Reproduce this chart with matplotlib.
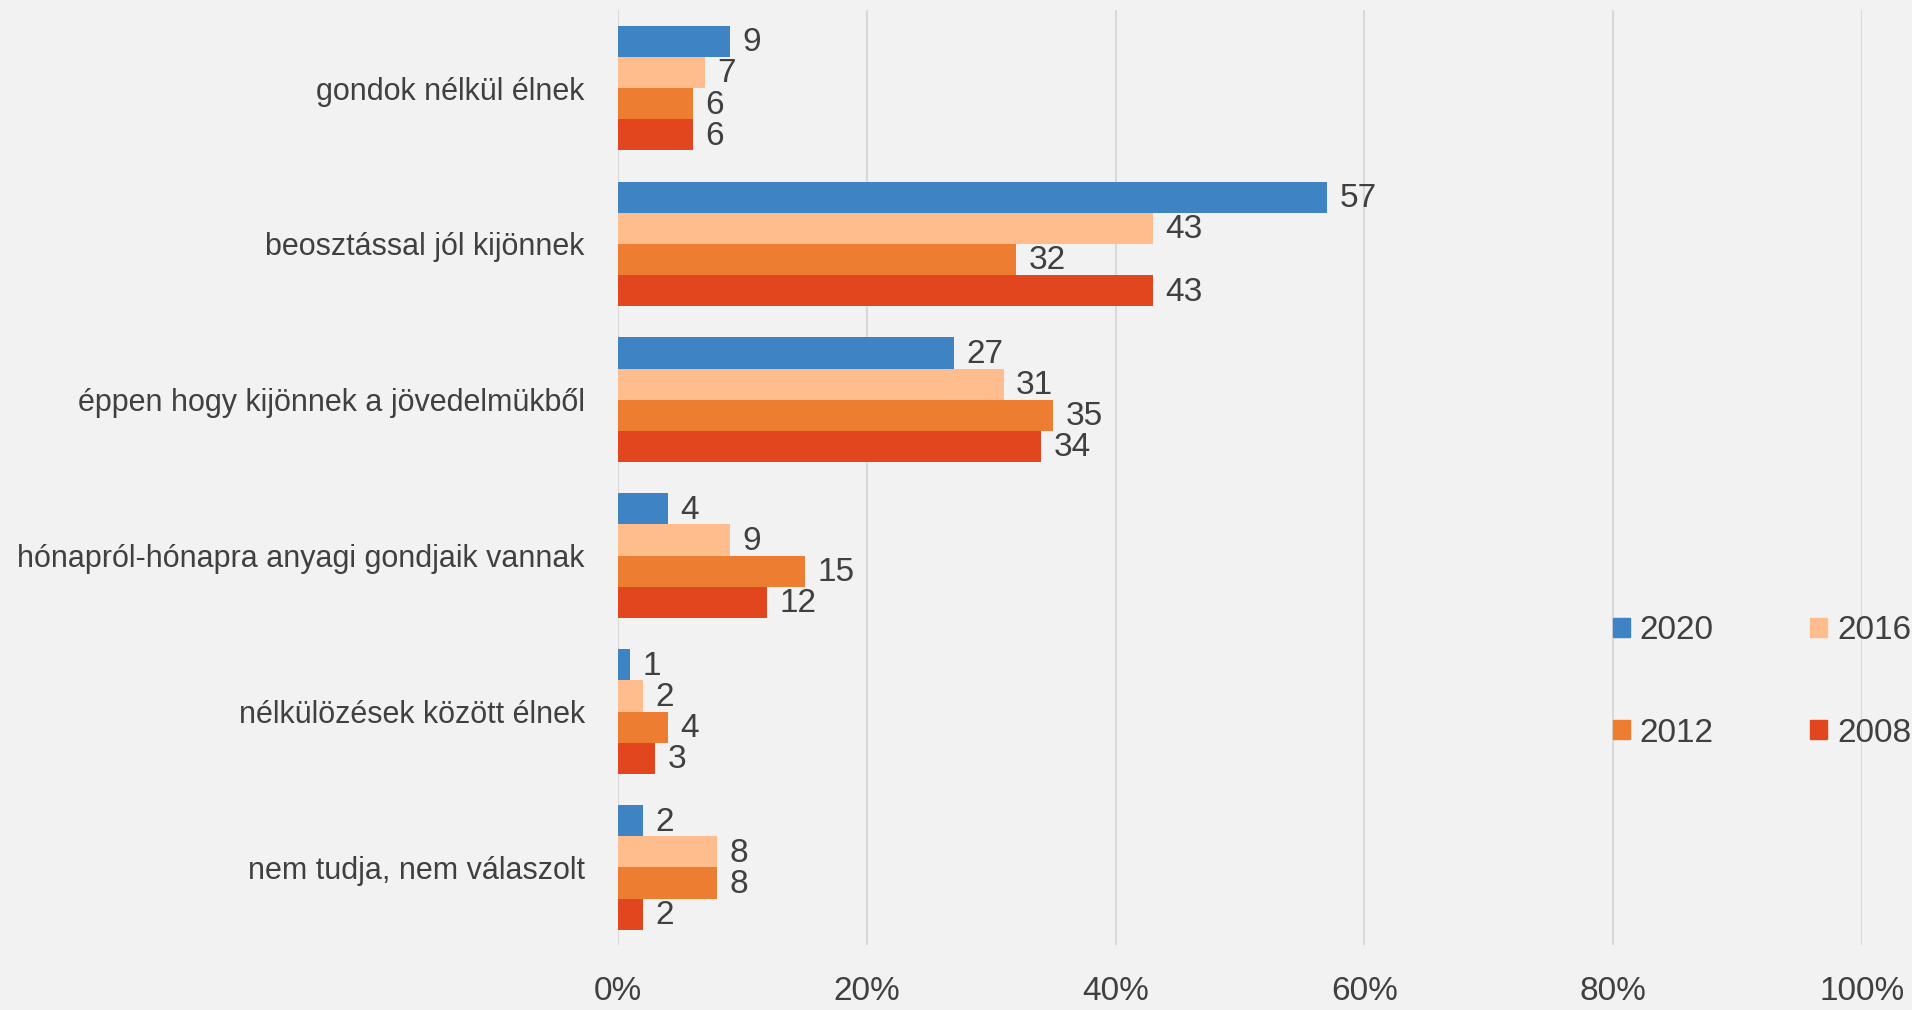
import matplotlib.pyplot as plt
import numpy as np
from matplotlib.patches import Patch

plt.rcParams['font.family'] = ['Liberation Sans', 'DejaVu Sans']

categories = ['gondok nélkül élnek',
              'beosztással jól kijönnek',
              'éppen hogy kijönnek a jövedelmükből',
              'hónapról-hónapra anyagi gondjaik vannak',
              'nélkülözések között élnek',
              'nem tudja, nem válaszolt']
years = ['2020', '2016', '2012', '2008']
v2020 = [9, 57, 27, 4, 1, 2]
v2016 = [7, 43, 31, 9, 2, 8]
v2012 = [6, 32, 35, 15, 4, 8]
v2008 = [6, 43, 34, 12, 3, 2]
series = [v2020, v2016, v2012, v2008]
colors = ['#3E84C4', '#FFBC8C', '#ED7D31', '#E2461E']

bg = '#F2F2F2'
txt = '#404040'

fig = plt.figure(figsize=(19.12, 10.1), dpi=100, facecolor=bg)
ax = fig.add_axes([0.3232, 0.064, 0.6506, 0.926])
ax.set_facecolor(bg)

y = np.arange(len(categories))
h = 0.2
for i, (vals, c) in enumerate(zip(series, colors)):
    pos = y - 1.5 * h + i * h
    ax.barh(pos, vals, height=h, color=c, zorder=3)
    for p, v in zip(pos, vals):
        ax.annotate(str(v), (v, p), xytext=(9, -1), textcoords='offset points',
                    va='center', ha='left', fontsize=24, color=txt)

ax.set_xlim(0, 100)
ax.set_ylim(5.5, -0.5)
ax.set_xticks(np.arange(0, 101, 20))
ax.set_xticklabels([f'{t}%' for t in range(0, 101, 20)])
ax.set_yticks(y)
ax.set_yticklabels(categories)
ax.tick_params(axis='x', length=0, labelsize=24, labelcolor=txt, pad=22)
ax.tick_params(axis='y', length=0, labelsize=22, labelcolor=txt, pad=24)
ax.grid(axis='x', color='#D9D9D9', linewidth=1.5, zorder=0)
for s in ax.spines.values():
    s.set_visible(False)

# matplotlib fills legend columns first, so reorder to get 2020 2016 / 2012 2008
order = [0, 2, 1, 3]
handles = [Patch(color=colors[k], label=years[k]) for k in order]
fig.legend(handles=handles, ncol=2, loc='center left', bbox_to_anchor=(0.828, 0.325),
           frameon=False, fontsize=24, labelcolor=txt, handlelength=0.5, handleheight=0.5,
           handletextpad=0.3, columnspacing=2.9, labelspacing=2.15)

fig.savefig('out.png', dpi=100, facecolor=bg)
